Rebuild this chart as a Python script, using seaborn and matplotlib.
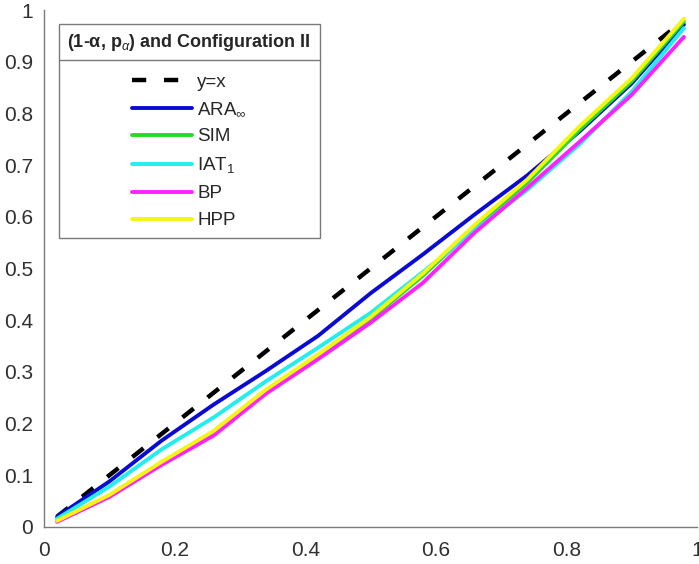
import numpy as np
import pandas as pd
import matplotlib
matplotlib.use("Agg")
import matplotlib.pyplot as plt
import seaborn as sns

# nominal level (1-alpha) grid
level = [0.02, 0.10, 0.18, 0.26, 0.34, 0.42, 0.50, 0.58, 0.66, 0.74, 0.82, 0.90, 0.98]

ara = [0.020, 0.088, 0.167, 0.237, 0.302, 0.370, 0.452, 0.527, 0.605, 0.680, 0.765, 0.858, 0.972]
sim = [0.012, 0.060, 0.124, 0.184, 0.263, 0.331, 0.402, 0.486, 0.580, 0.666, 0.768, 0.862, 0.978]
iat = [0.016, 0.078, 0.150, 0.212, 0.282, 0.347, 0.414, 0.493, 0.575, 0.652, 0.740, 0.842, 0.965]
bp = [0.010, 0.058, 0.120, 0.177, 0.258, 0.325, 0.395, 0.472, 0.570, 0.656, 0.745, 0.836, 0.948]
hpp = [0.012, 0.062, 0.126, 0.186, 0.266, 0.334, 0.406, 0.490, 0.585, 0.672, 0.775, 0.868, 0.983]

labels = ["y=x", r"ARA$_\infty$", "SIM", r"IAT$_1$", "BP", "HPP"]
colors = ["black", "#0a0ad2", "#22dd22", "#22eeee", "#ff22ff", "#f5f514"]

sns.set_theme(style="white")
plt.rcParams["font.family"] = ["Liberation Sans", "DejaVu Sans"]
plt.rcParams["mathtext.fontset"] = "custom"
plt.rcParams["mathtext.rm"] = "Liberation Sans"
plt.rcParams["mathtext.it"] = "Liberation Sans:italic"
plt.rcParams["mathtext.bf"] = "Liberation Sans:bold"

df = pd.DataFrame({"level": level, "y=x": level, "ARA": ara, "SIM": sim,
                   "IAT": iat, "BP": bp, "HPP": hpp})
cols = ["y=x", "ARA", "SIM", "IAT", "BP", "HPP"]

fig = plt.figure(figsize=(6.99, 5.64), dpi=100)
ax = fig.add_axes([44/699, 37/564, 653/699, 517/564])

for c, lab, col in zip(cols, labels, colors):
    if c == "y=x":
        sns.lineplot(data=df, x="level", y=c, ax=ax, color=col, label=lab,
                     linewidth=3.2, linestyle=(0, (3.2, 4.0)))
    else:
        sns.lineplot(data=df, x="level", y=c, ax=ax, color=col, label=lab,
                     linewidth=2.8)

ax.set_xlim(0, 1)
ax.set_ylim(0, 1)
ax.set_xticks(np.arange(0, 1.01, 0.2))
ax.set_yticks(np.arange(0, 1.01, 0.1))
ax.set_xticklabels(["0", "0.2", "0.4", "0.6", "0.8", "1"])
ax.set_yticklabels(["0"] + [f"{v:.1f}" for v in np.arange(0.1, 0.95, 0.1)] + ["1"])
ax.set_xlabel("")
ax.set_ylabel("")
sns.despine(ax=ax)
for s in ["left", "bottom"]:
    ax.spines[s].set_color("#7a7a7a")
    ax.spines[s].set_linewidth(1.0)
ax.tick_params(direction="in", length=5, width=1, color="#7a7a7a",
               labelsize=15, labelcolor="#303030")
ax.tick_params(axis="y", pad=8)
ax.tick_params(axis="x", pad=10)

leg = ax.legend(title=r"(1-α, p$_{\alpha}$) and Configuration II", loc="upper left",
                bbox_to_anchor=(59/699, 1 - 24/564), bbox_transform=fig.transFigure,
                fontsize=13.5, title_fontsize=13, alignment="center",
                handlelength=3.2, handletextpad=0.3, labelspacing=0.53,
                borderpad=0.45, borderaxespad=0, fancybox=False, framealpha=1,
                edgecolor="#7a7a7a")
leg.get_title().set_fontweight("bold")
leg.get_frame().set_linewidth(1.0)
# more room between the title row and the entries
leg._legend_box.sep = 14.5

# separator line under the legend title
fig.canvas.draw()
fb = leg.get_frame().get_window_extent()
tb = leg.get_title().get_window_extent()
ysep = tb.y0 - 7
fig.add_artist(plt.Line2D([fb.x0 / fig.bbox.width, fb.x1 / fig.bbox.width],
                          [ysep / fig.bbox.height] * 2, color="#7a7a7a", linewidth=1.0))

fig.savefig("out.png", dpi=100)
